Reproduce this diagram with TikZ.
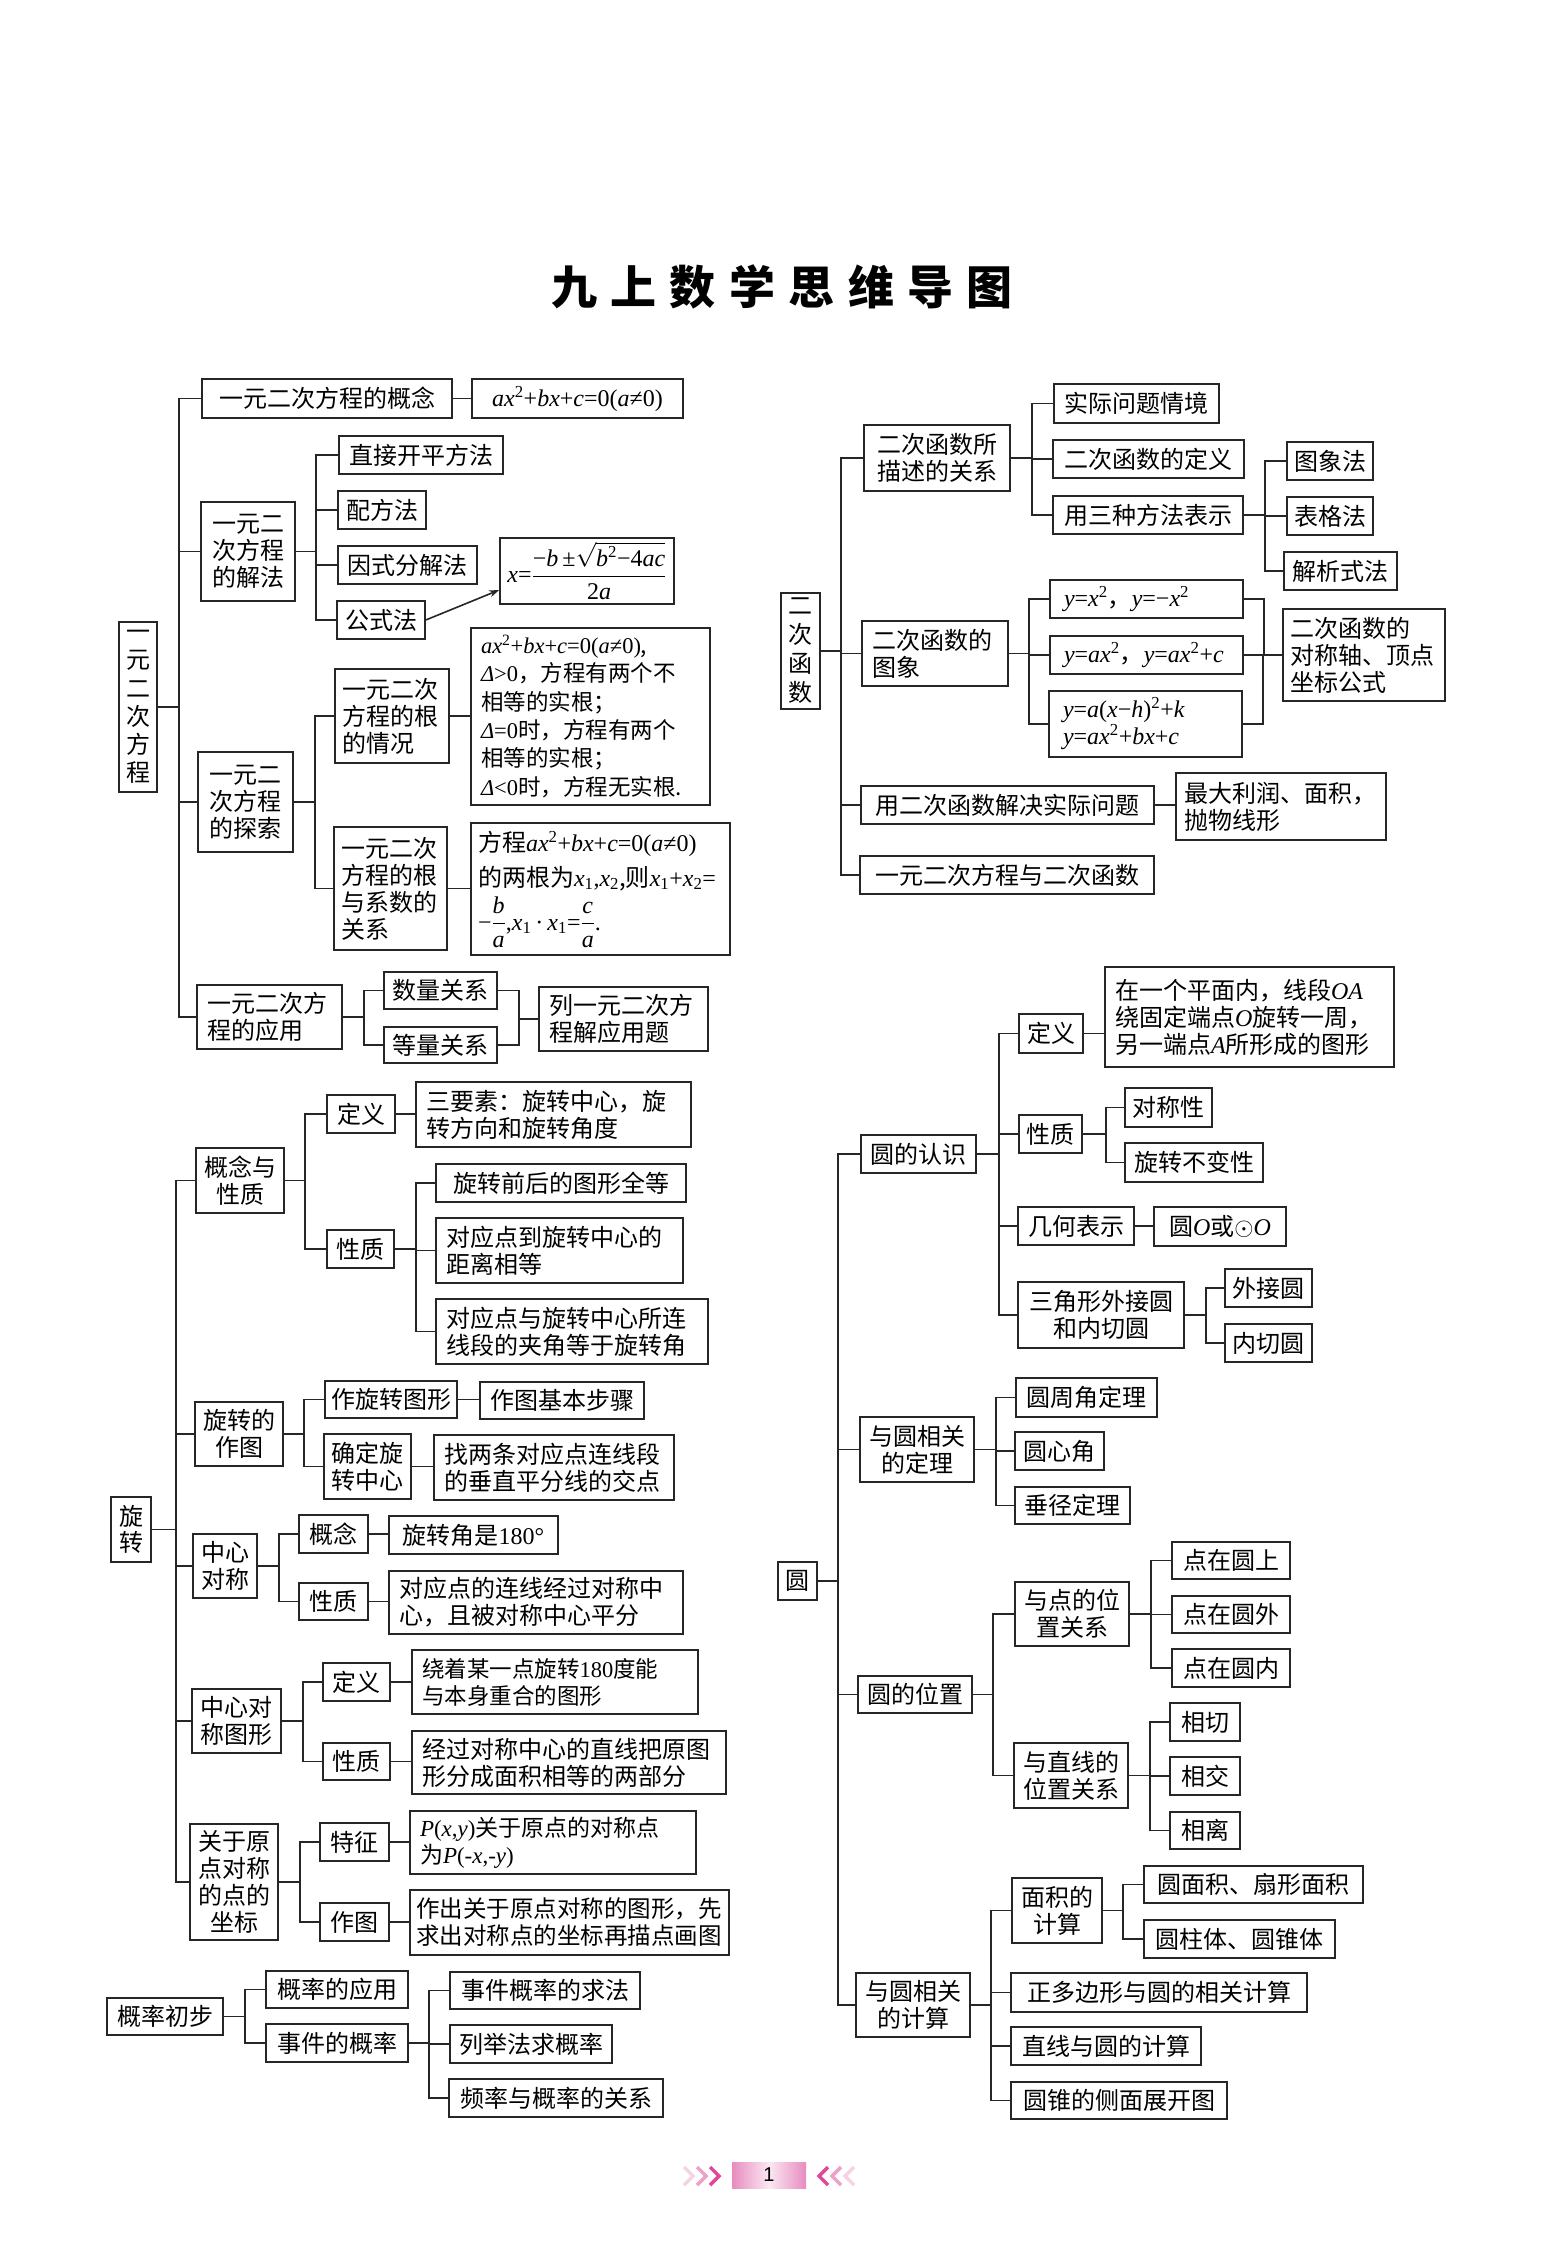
\documentclass[tikz,border=0pt]{standalone}
\usepackage{amsmath}
\usepackage{fontspec}
\setmainfont{Noto Sans CJK SC}
\newfontfamily\tnr{Liberation Serif}
\newfontfamily\pgnum{Liberation Sans}
\usetikzlibrary{arrows.meta}
\definecolor{pinkd}{RGB}{232,140,192}
\definecolor{pinkl}{RGB}{250,232,242}
\definecolor{chevA}{RGB}{246,210,230}
\definecolor{chevB}{RGB}{238,160,202}
\definecolor{chevC}{RGB}{225,72,154}
\newcommand\xvi[1]{\textit{\tnr #1}}
\newcommand\xvr[1]{\textup{\tnr #1}}
\newcommand\xsup[1]{\textsuperscript{\tnr #1}}
\newcommand\xsub[1]{\textsubscript{\tnr #1}}
\newcommand\xeq{\xvi{ax}\xsup{2}+\xvi{bx}+\xvi{c}=0(\xvi{a}≠0)}
\newcommand\mybox[7][]{\pgfmathsetmacro\bw{(#5)-(#3)}\node[box,minimum width={\bw*1bp},minimum height={((#6)-(#4))*1bp},#1] (#2) at ({((#3)+(#5))/2},{((#4)+(#6))/2}) {#7};}
\newcommand\tbranch[3]{\foreach \nd in {#3}{\draw[conn] (#1.east) -- ++(#2,0) |- (\nd.west);}}
\newcommand\tjoin[3]{\foreach \nd in {#1}{\draw[conn] (\nd.east) -- ++(#2,0) |- (#3.west);}}
\newcommand\tdirect[2]{\draw[conn] (#1.east) -- (#1.east -| #2.west);}
\begin{document}
\begin{tikzpicture}[x=1bp,y=-1bp,
  box/.style={draw=black!85, line width=1.6bp, inner sep=1bp, align=center, text=black,
    font=\fontsize{24bp}{27bp}\selectfont},
  lft/.style={align=left, text width={(\bw-#1)*1bp}},
  lft/.default=20,
  conn/.style={line width=1.6bp, draw=black!85}]
\fill[white] (0,0) rectangle (1558,2260);
\useasboundingbox (0,0) rectangle (1558,2260);

% title
\node[inner sep=0, font=\fontsize{46bp}{46bp}\selectfont\bfseries] (title) at (782,287)
  {九\hspace{13.4bp}上\hspace{13.4bp}数\hspace{13.4bp}学\hspace{13.4bp}思\hspace{13.4bp}维\hspace{13.4bp}导\hspace{13.4bp}图};

% ===== 一元二次方程 =====
\mybox[font=\fontsize{24bp}{28.3bp}\selectfont]{r1}{119}{622}{157}{792}{一\\元\\二\\次\\方\\程}
\mybox{a1}{202}{379}{452}{418}{一元二次方程的概念}
\mybox{a1f}{472}{379}{683}{418}{\xvr{\xeq}}
\mybox{b1}{201}{502}{295}{601}{一元二\\次方程\\的解法}
\mybox{b11}{339}{436}{503}{474}{直接开平方法}
\mybox{b12}{338}{491}{426}{529}{配方法}
\mybox{b13}{338}{546}{477}{584}{因式分解法}
\mybox{b14}{337}{601}{425}{639}{公式法}
\mybox{b14f}{500}{538}{674}{604}{$\xvi{x}\xvr{=}\dfrac{\xvr{−\xvi{b}\,±}\sqrt{\xvr{\xvi{b}\xsup{2}−4\xvi{ac}}}}{\xvr{2\xvi{a}}}$}
\mybox{c1}{198}{752}{293}{852}{一元二\\次方程\\的探索}
\mybox[lft=14]{c11}{335}{669}{449}{763}{一元二次\\方程的根\\的情况}
\mybox[lft,font=\fontsize{22.5bp}{28.4bp}\selectfont]{c11f}{471}{628}{710}{805}{\xvr{\xeq},\\\xvi{Δ}\xvr{>0}，方程有两个不\\相等的实根；\\\xvi{Δ}\xvr{=0}时，方程有两个\\相等的实根；\\\xvi{Δ}\xvr{<0}时，方程无实根.}
\mybox[lft=14]{c12}{334}{827}{447}{950}{一元二次\\方程的根\\与系数的\\关系}
\mybox[lft=14,font=\fontsize{24bp}{35bp}\selectfont]{c12f}{471}{823}{730}{955}{方程\xvr{\xeq}\\的两根为\xvr{\xvi{x}\xsub{1},\xvi{x}\xsub{2}},则\xvr{\xvi{x}\xsub{1}+\xvi{x}\xsub{2}=}\\[5bp]$\xvr{−}\dfrac{\xvi{b}}{\xvi{a}}$\xvr{,\xvi{x}\xsub{1}\,·\,\xvi{x}\xsub{1}=}$\dfrac{\xvi{c}}{\xvi{a}}$\xvr{.}}
\mybox[lft]{d1}{197}{985}{342}{1049}{一元二次方\\程的应用}
\mybox{d11}{384}{972}{497}{1009}{数量关系}
\mybox{d12}{384}{1027}{497}{1063}{等量关系}
\mybox[lft]{d1f}{539}{987}{708}{1051}{列一元二次方\\程解应用题}

\tbranch{r1}{21}{a1,b1,c1,d1}
\tdirect{a1}{a1f}
\tbranch{b1}{20}{b11,b12,b13,b14}
\draw[conn,-{Stealth[length=10bp,width=7bp]}] (b14.east) -- ([yshift=-19bp]b14f.west);
\tbranch{c1}{21}{c11,c12}
\tdirect{c11}{c11f}
\tdirect{c12}{c12f}
\tbranch{d1}{21}{d11,d12}
\tjoin{d11,d12}{21}{d1f}

% ===== 旋转 =====
\mybox[font=\fontsize{24bp}{26bp}\selectfont]{r2}{111}{1497}{151}{1562}{旋\\转}
\mybox{e1}{196}{1148}{284}{1213}{概念与\\性质}
\mybox{e11}{327}{1095}{395}{1133}{定义}
\mybox[lft]{e11f}{416}{1082}{691}{1147}{三要素：旋转中心，旋\\转方向和旋转角度}
\mybox{e12}{327}{1230}{394}{1268}{性质}
\mybox{e121}{436}{1164}{686}{1202}{旋转前后的图形全等}
\mybox[lft]{e122}{436}{1218}{683}{1283}{对应点到旋转中心的\\距离相等}
\mybox[lft]{e123}{436}{1299}{708}{1364}{对应点与旋转中心所连\\线段的夹角等于旋转角}
\mybox{f1}{195}{1402}{283}{1466}{旋转的\\作图}
\mybox{f11}{325}{1381}{457}{1418}{作旋转图形}
\mybox{f11f}{480}{1382}{644}{1419}{作图基本步骤}
\mybox{f12}{324}{1434}{411}{1499}{确定旋\\转中心}
\mybox[lft]{f12f}{434}{1435}{674}{1500}{找两条对应点连线段\\的垂直平分线的交点}
\mybox{g1}{193}{1534}{257}{1598}{中心\\对称}
\mybox{g11}{299}{1515}{368}{1553}{概念}
\mybox{g11f}{389}{1516}{558}{1554}{旋转角是\xvr{180°}}
\mybox{g12}{299}{1583}{368}{1620}{性质}
\mybox[lft]{g12f}{389}{1571}{683}{1634}{对应点的连线经过对称中\\心，且被对称中心平分}
\mybox{h1}{192}{1689}{281}{1753}{中心对\\称图形}
\mybox{h11}{323}{1663}{390}{1701}{定义}
\mybox[lft,font=\fontsize{22.5bp}{27bp}\selectfont]{h11f}{412}{1650}{698}{1714}{绕着某一点旋转\xvr{180}度能\\与本身重合的图形}
\mybox{h12}{323}{1743}{390}{1780}{性质}
\mybox[lft]{h12f}{412}{1731}{726}{1794}{经过对称中心的直线把原图\\形分成面积相等的两部分}
\mybox{i1}{190}{1824}{278}{1940}{关于原\\点对称\\的点的\\坐标}
\mybox{i11}{320}{1823}{389}{1861}{特征}
\mybox[lft,font=\fontsize{23bp}{27bp}\selectfont]{i11f}{410}{1811}{696}{1874}{\xvr{\xvi{P}(\xvi{x},\xvi{y})}关于原点的对称点\\为\xvr{\xvi{P}(-\xvi{x},-\xvi{y})}}
\mybox{i12}{320}{1903}{389}{1941}{作图}
\mybox[lft=12,font=\fontsize{23.5bp}{27bp}\selectfont]{i12f}{410}{1890}{729}{1955}{作出关于原点对称的图形，先\\求出对称点的坐标再描点画图}

\tbranch{r2}{24}{e1,f1,g1,h1,i1}
\tbranch{e1}{20}{e11,e12}
\tdirect{e11}{e11f}
\tbranch{e12}{21}{e121,e122,e123}
\tbranch{f1}{20}{f11,f12}
\tdirect{f11}{f11f}
\tdirect{f12}{f12f}
\tbranch{g1}{21}{g11,g12}
\tdirect{g11}{g11f}
\tdirect{g12}{g12f}
\tbranch{h1}{21}{h11,h12}
\tdirect{h11}{h11f}
\tdirect{h12}{h12f}
\tbranch{i1}{21}{i11,i12}
\tdirect{i11}{i11f}
\tdirect{i12}{i12f}

% ===== 概率初步 =====
\mybox{p1}{107}{1998}{223}{2035}{概率初步}
\mybox{p11}{266}{1971}{408}{2008}{概率的应用}
\mybox{p12}{266}{2024}{408}{2062}{事件的概率}
\mybox{p121}{450}{1972}{640}{2009}{事件概率的求法}
\mybox{p122}{450}{2025}{612}{2063}{列举法求概率}
\mybox{p123}{449}{2079}{663}{2117}{频率与概率的关系}
\tbranch{p1}{21}{p11,p12}
\tbranch{p12}{20}{p121,p122,p123}

% ===== 二次函数 =====
\mybox[font=\fontsize{24bp}{29bp}\selectfont]{r3}{781}{593}{820}{709}{二\\次\\函\\数}
\mybox{j1}{864}{425}{1010}{491}{二次函数所\\描述的关系}
\mybox{j11}{1054}{384}{1219}{423}{实际问题情境}
\mybox{j12}{1053}{440}{1244}{478}{二次函数的定义}
\mybox{j13}{1053}{496}{1243}{534}{用三种方法表示}
\mybox{j131}{1287}{442}{1373}{480}{图象法}
\mybox{j132}{1287}{497}{1373}{535}{表格法}
\mybox{j133}{1284}{552}{1397}{590}{解析式法}
\mybox[lft]{k1}{862}{621}{1008}{686}{二次函数的\\图象}
\mybox[lft=28]{k11}{1050}{580}{1243}{618}{\xvr{\xvi{y}=\xvi{x}\xsup{2}}，\xvr{\xvi{y}=−\xvi{x}\xsup{2}}}
\mybox[lft=28]{k12}{1050}{636}{1243}{674}{\xvr{\xvi{y}=\xvi{ax}\xsup{2}}，\xvr{\xvi{y}=\xvi{ax}\xsup{2}+\xvi{c}}}
\mybox[lft=28]{k13}{1049}{691}{1242}{757}{\xvr{\xvi{y}=\xvi{a}(\xvi{x}−\xvi{h})\xsup{2}+\xvi{k}}\\\xvr{\xvi{y}=\xvi{ax}\xsup{2}+\xvi{bx}+\xvi{c}}}
\mybox[lft=14]{kf}{1283}{609}{1445}{701}{二次函数的\\对称轴、顶点\\坐标公式}
\mybox{l1}{861}{786}{1154}{824}{用二次函数解决实际问题}
\mybox[lft=16]{l1f}{1176}{773}{1386}{840}{最大利润、面积，\\抛物线形}
\mybox{m1}{860}{856}{1154}{894}{一元二次方程与二次函数}

\tbranch{r3}{20}{j1,k1,l1,m1}
\tbranch{j1}{21}{j11,j12,j13}
\tbranch{j13}{21}{j131,j132,j133}
\tbranch{k1}{20}{k11,k12,k13}
\tjoin{k11,k12,k13}{20}{kf}
\tdirect{l1}{l1f}

% ===== 圆 =====
\mybox{r4}{778}{1562}{817}{1600}{圆}
\mybox{n1}{861}{1135}{976}{1173}{圆的认识}
\mybox{n11}{1019}{1014}{1083}{1053}{定义}
\mybox[lft]{n11f}{1105}{967}{1394}{1067}{在一个平面内，线段\xvi{OA}\\绕固定端点\xvi{O}旋转一周，\\另一端点\xvi{A}所形成的图形}
\mybox{n12}{1019}{1115}{1082}{1153}{性质}
\mybox{n121}{1125}{1088}{1212}{1127}{对称性}
\mybox{n122}{1125}{1143}{1263}{1182}{旋转不变性}
\mybox{n13}{1018}{1207}{1134}{1245}{几何表示}
\mybox{n13f}{1154}{1207}{1286}{1246}{圆\xvi{O}或$\odot$\xvi{O}}
\mybox{n14}{1018}{1282}{1184}{1348}{三角形外接圆\\和内切圆}
\mybox{n141}{1225}{1269}{1312}{1307}{外接圆}
\mybox{n142}{1225}{1324}{1312}{1362}{内切圆}
\mybox{o1}{860}{1417}{974}{1482}{与圆相关\\的定理}
\mybox{o11}{1016}{1378}{1157}{1417}{圆周角定理}
\mybox{o12}{1015}{1432}{1104}{1470}{圆心角}
\mybox{o13}{1015}{1487}{1130}{1524}{垂径定理}
\mybox{q1}{858}{1676}{972}{1713}{圆的位置}
\mybox{q11}{1015}{1582}{1129}{1646}{与点的位\\置关系}
\mybox{q111}{1172}{1542}{1290}{1579}{点在圆上}
\mybox{q112}{1172}{1596}{1290}{1633}{点在圆外}
\mybox{q113}{1172}{1649}{1290}{1687}{点在圆内}
\mybox{q12}{1014}{1743}{1128}{1808}{与直线的\\位置关系}
\mybox{q121}{1170}{1703}{1240}{1741}{相切}
\mybox{q122}{1170}{1757}{1240}{1795}{相交}
\mybox{q123}{1170}{1812}{1240}{1849}{相离}
\mybox{s1}{856}{1973}{970}{2037}{与圆相关\\的计算}
\mybox{s11}{1012}{1878}{1102}{1943}{面积的\\计算}
\mybox{s111}{1144}{1866}{1363}{1903}{圆面积、扇形面积}
\mybox{s112}{1144}{1920}{1335}{1958}{圆柱体、圆锥体}
\mybox{s12}{1011}{1973}{1307}{2012}{正多边形与圆的相关计算}
\mybox{s13}{1011}{2027}{1201}{2065}{直线与圆的计算}
\mybox{s14}{1011}{2082}{1227}{2119}{圆锥的侧面展开图}

\tbranch{r4}{20}{n1,o1,q1,s1}
\tbranch{n1}{22}{n11,n12,n13,n14}
\tdirect{n11}{n11f}
\tbranch{n12}{23}{n121,n122}
\tdirect{n13}{n13f}
\tbranch{n14}{21}{n141,n142}
\tbranch{o1}{21}{o11,o12,o13}
\tbranch{q1}{20}{q11,q12}
\tbranch{q11}{21}{q111,q112,q113}
\tbranch{q12}{21}{q121,q122,q123}
\tbranch{s1}{20}{s11,s12,s13,s14}
\tbranch{s11}{20}{s111,s112}

% ===== footer =====
\node[minimum width=74bp, minimum height=26bp, inner sep=0, left color=pinkd, right color=pinkd, middle color=pinkl, font=\pgnum\fontsize{20bp}{20bp}\selectfont] (pg) at (769,2175) {1};
\foreach \xx/\cc in {684/chevA,697/chevB,710/chevC}{\draw[\cc, line width=3.5bp, line join=miter] (\xx,2167) -- (\xx+9,2176) -- (\xx,2185);}
\foreach \xx/\cc in {828/chevC,841/chevB,854/chevA}{\draw[\cc, line width=3.5bp, line join=miter] (\xx,2167) -- (\xx-9,2176) -- (\xx,2185);}
\end{tikzpicture}
\end{document}
